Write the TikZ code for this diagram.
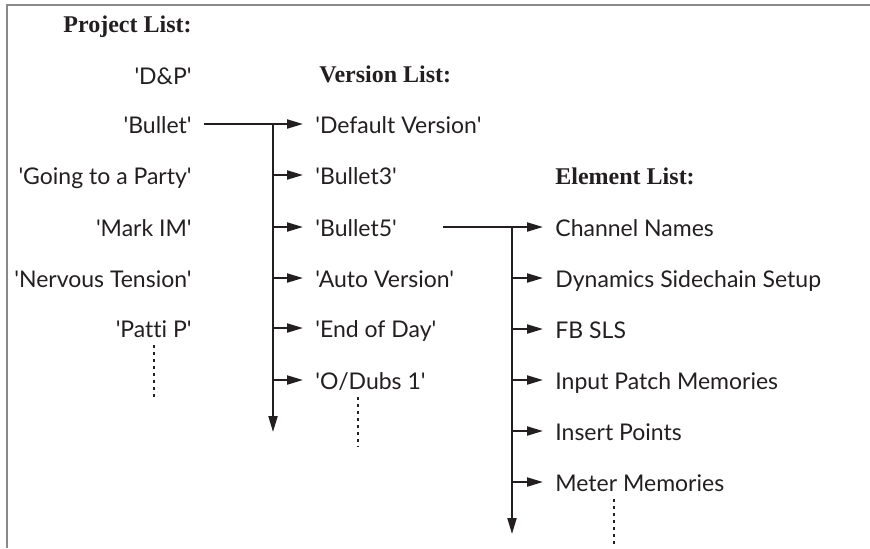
\documentclass[tikz,border=0pt]{standalone}
\usepackage{fontspec}
\usepackage{tikz}
\usetikzlibrary{arrows.meta}
\newfontfamily\itemfont{Lato}[Ligatures=NoCommon]
\newfontfamily\headfont{Liberation Serif}
\definecolor{ink}{HTML}{231F20}
\definecolor{rule}{HTML}{8A8A8A}

\tikzset{
  item/.style={font=\itemfont\fontsize{11.5}{13}\selectfont, text=ink, inner xsep=6pt, inner ysep=0pt, text height=9pt, text depth=0pt},
  head/.style={font=\headfont\bfseries\fontsize{12}{14}\selectfont, text=ink, inner sep=0pt},
  link/.style={ink, line width=1pt, -{Triangle[length=8pt,width=4.5pt]}},
  more/.style={ink, line width=1pt, dash pattern=on 1.5pt off 2pt},
}

\begin{document}
\begin{tikzpicture}[x=0.5pt,y=-0.5pt]
    \useasboundingbox (0,0) rectangle (870,548);
    \draw[rule, line width=1.2pt] (7,548) -- (7,5) -- (870,5);

    % project list
    \node[head, anchor=base east] (ph) at (192,32) {Project List:};
    \node[item, anchor=east] (p1) at (204,75) {'D\&P'};
    \node[item, anchor=east] (p2) at (204,124) {'Bullet'};
    \node[item, anchor=east] (p3) at (204,175) {'Going to a Party'};
    \node[item, anchor=east] (p4) at (204,227) {'Mark IM'};
    \node[item, anchor=east] (p5) at (204,278) {'Nervous Tension'};
    \node[item, anchor=east] (p6) at (204,328) {'Patti P'};
    \draw[more] (154,345) -- (154,397);

    % version list
    \node[head, anchor=base west] (vh) at (319,82) {Version List:};
    \node[item, anchor=west] (v1) at (303,124) {'Default Version'};
    \node[item, anchor=west] (v2) at (303,175) {'Bullet3'};
    \node[item, anchor=west] (v3) at (303,227) {'Bullet5'};
    \node[item, anchor=west] (v4) at (303,278) {'Auto Version'};
    \node[item, anchor=west] (v5) at (303,328) {'End of Day'};
    \node[item, anchor=west] (v6) at (303,380) {'O/Dubs 1'};
    \draw[more] (358,397) -- (358,447);

    \coordinate (vj) at (273,124);
    \coordinate (vend) at (273,432);
    \draw[link] (p2.east) -- (v1.west);
    \draw[link] (vj) -- (vend);
    \foreach \v in {v2,v3,v4,v5,v6}
      \draw[link] (vj |- \v.west) -- (\v.west);

    % element list
    \node[head, anchor=base west] (eh) at (555,184) {Element List:};
    \node[item, anchor=west] (e1) at (543,227) {Channel Names};
    \node[item, anchor=west] (e2) at (543,278) {Dynamics Sidechain Setup};
    \node[item, anchor=west] (e3) at (543,329) {FB SLS};
    \node[item, anchor=west] (e4) at (543,380) {Input Patch Memories};
    \node[item, anchor=west] (e5) at (543,431) {Insert Points};
    \node[item, anchor=west] (e6) at (543,482) {Meter Memories};
    \draw[more] (614,499) -- (614,548);

    \coordinate (eout) at (443,227);
    \coordinate (ej) at (512,227);
    \coordinate (eend) at (512,534);
    \draw[link] (eout |- v3.east) -- (e1.west);
    \draw[link] (ej) -- (eend);
    \foreach \e in {e2,e3,e4,e5,e6}
      \draw[link] (ej |- \e.west) -- (\e.west);
\end{tikzpicture}
\end{document}
